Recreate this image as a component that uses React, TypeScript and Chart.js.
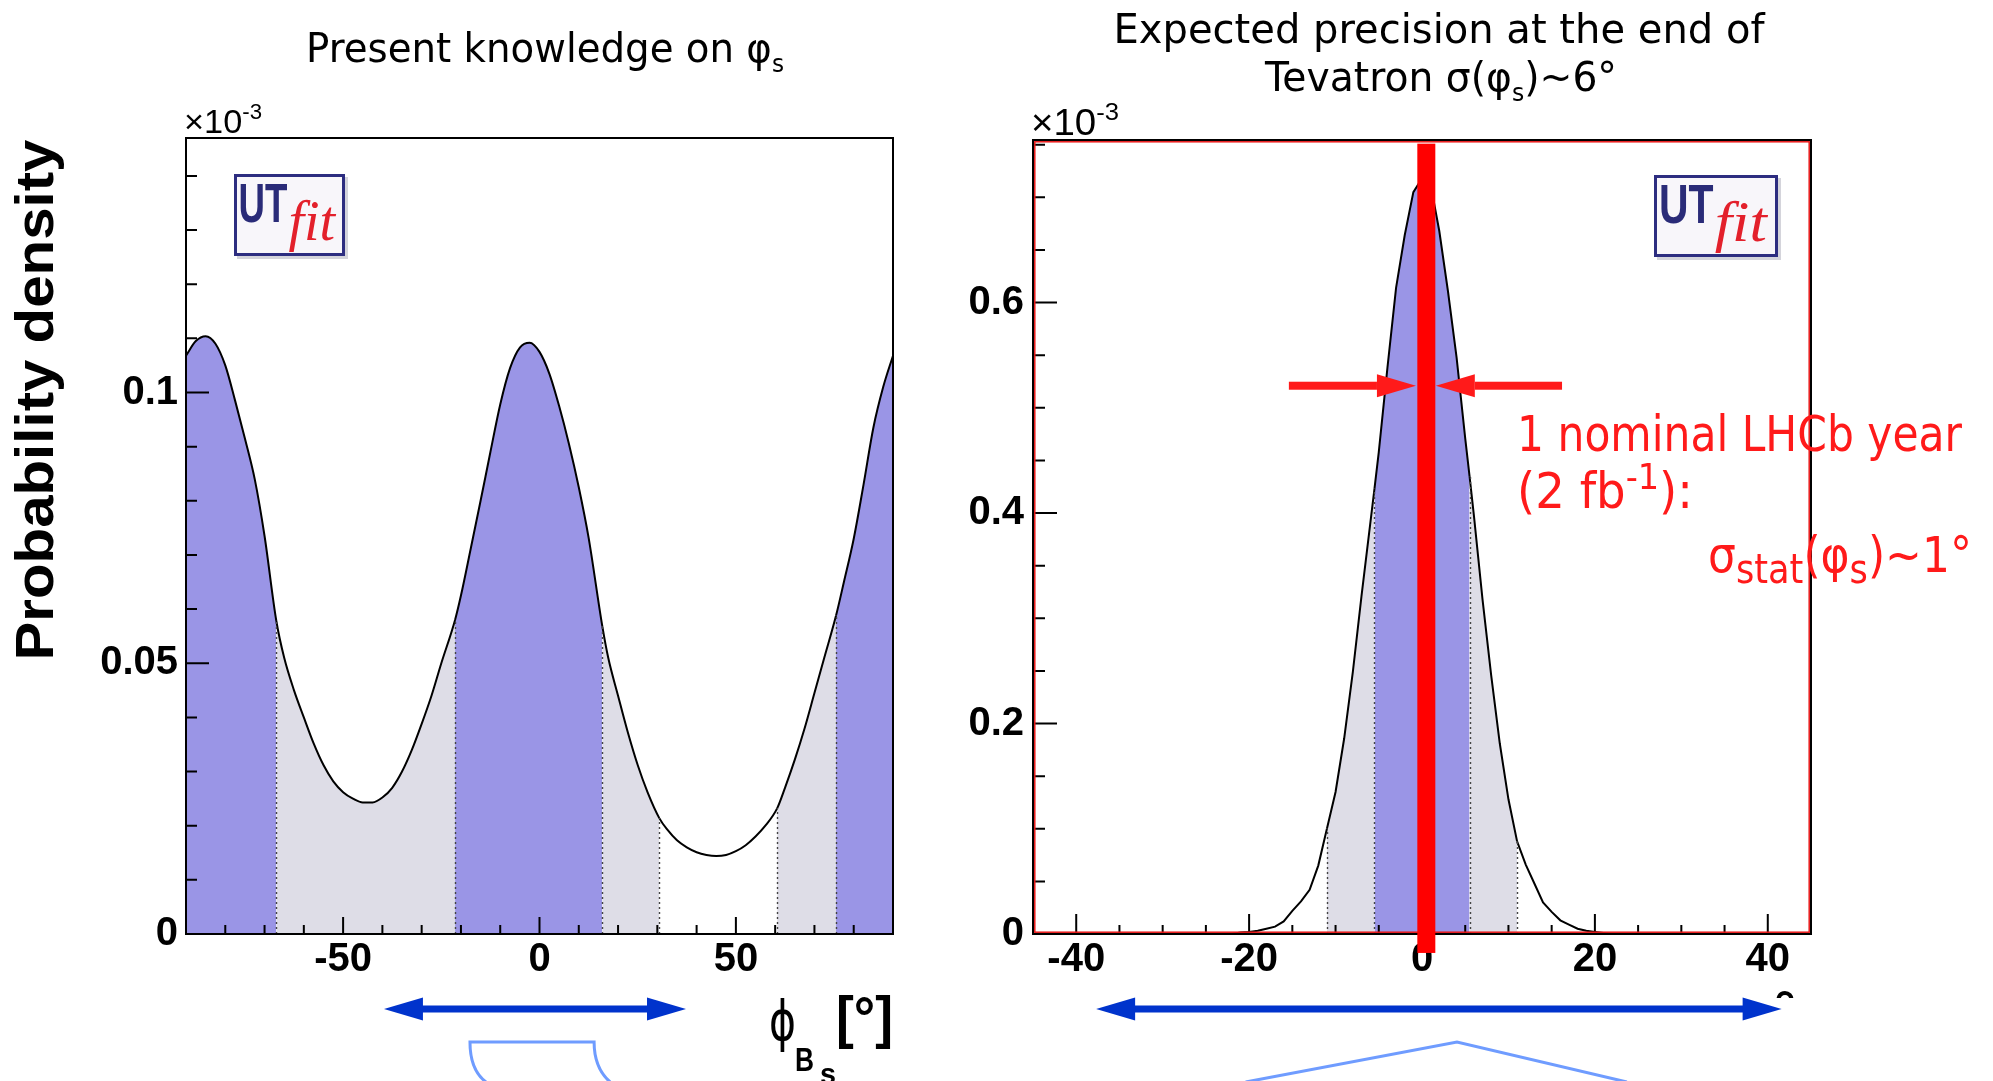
import { useEffect, useRef } from 'react';
import { Chart, registerables } from 'chart.js';

Chart.register(...registerables);

// ---- Present knowledge: posterior density of phi_s [deg] (x 1e-3) ----
const PHI_NOW = [-90, -87.5, -85, -82.5, -80, -77.5, -75, -72.5, -70, -67, -65, -62.5, -60, -57.5, -55, -52.5, -50, -47.5, -45, -42.5, -40, -37.5, -35, -32.5, -30, -27.5, -25, -21.5, -20, -17.5, -15, -12.5, -10, -7.5, -5, -2.5, 0, 2.5, 5, 7.5, 10, 12.5, 16, 17.5, 20, 22.5, 25, 27.5, 30.5, 32.5, 35, 37.5, 40, 42.5, 45, 47.5, 50, 52.5, 55, 57.5, 60.5, 62.5, 65, 67.5, 70, 72.5, 75.5, 77.5, 80, 82.5, 85, 87.5, 90];
const PDF_NOW = [0.1068, 0.1095, 0.1104, 0.109, 0.105, 0.0985, 0.0915, 0.084, 0.0735, 0.0578, 0.051, 0.045, 0.04, 0.0352, 0.0312, 0.0282, 0.0262, 0.025, 0.0243, 0.0243, 0.0252, 0.027, 0.03, 0.034, 0.0388, 0.044, 0.05, 0.058, 0.0625, 0.0712, 0.08, 0.089, 0.0978, 0.1045, 0.1083, 0.1092, 0.1075, 0.1035, 0.0975, 0.0905, 0.0825, 0.0732, 0.0568, 0.051, 0.044, 0.0372, 0.0312, 0.0262, 0.0214, 0.0193, 0.0173, 0.016, 0.0151, 0.0146, 0.0144, 0.0146, 0.0153, 0.0164, 0.018, 0.02, 0.0232, 0.027, 0.0322, 0.038, 0.0445, 0.051, 0.0588, 0.065, 0.073, 0.083, 0.0935, 0.101, 0.1068];
const NOW_68 = [[-90, -67], [-21.5, 16], [75.5, 90]];
const NOW_95 = [[-67, -21.5], [16, 30.5], [60.5, 75.5]];
const NOW_X_TICKS = [-50, 0, 50];
const NOW_X_LABELS = ['-50', '0', '50'];
const NOW_Y_TICKS = [0, 0.05, 0.1];
const NOW_Y_LABELS = ['0', '0.05', '0.1'];

// ---- Expected at the end of Tevatron: density of phi_s [deg] (x 1e-3) ----
const PHI_TEV = [-45, -22, -21, -20, -19, -18, -17, -16, -15, -14, -13, -12, -11, -10, -9, -8, -7, -6, -5.5, -5, -4, -3, -2, -1, 0, 1, 2, 3, 4, 5, 5.5, 6, 7, 8, 9, 10, 11, 12, 13, 14, 15, 16, 17, 18, 19, 20, 21, 22, 45];
const PDF_TEV = [0, 0, 0.0015, 0.002, 0.003, 0.005, 0.007, 0.012, 0.022, 0.031, 0.042, 0.065, 0.1, 0.135, 0.186, 0.249, 0.321, 0.389, 0.423, 0.458, 0.538, 0.614, 0.664, 0.705, 0.718, 0.712, 0.668, 0.611, 0.548, 0.471, 0.435, 0.398, 0.318, 0.246, 0.181, 0.128, 0.088, 0.066, 0.048, 0.03, 0.021, 0.013, 0.009, 0.005, 0.003, 0.002, 0.001, 0, 0];
const TEV_68 = [[-5.5, 5.5]];
const TEV_95 = [[-11, -5.5], [5.5, 11]];
const TEV_X_TICKS = [-40, -20, 0, 20, 40];
const TEV_X_LABELS = ['-40', '-20', '0', '20', '40'];
const TEV_Y_TICKS = [0, 0.2, 0.4, 0.6];
const TEV_Y_LABELS = ['0', '0.2', '0.4', '0.6'];

// LHCb one-year expectation overlay
const LHCB_CENTRAL = 0.5;
const LHCB_ARROW_LEVEL = 0.521;
const LHCB_ARROW_LEFT = [-15.4, -0.7];
const LHCB_ARROW_RIGHT = [16.2, 1.6];

const FONT_AXIS = '"Liberation Sans", Arial, Helvetica, sans-serif';
const FONT_HAND = '"DejaVu Sans", "Noto Sans", sans-serif';
const DARK = '#9a95e6';
const LIGHT = '#dedde7';
const RED = '#ff1a1a';
const BLUE = '#0033cc';
const PALE_BLUE = '#6f9cff';

type Run = { text: string; size: number; dy?: number; weight?: string; style?: string; family?: string };

function drawRuns(
  ctx: CanvasRenderingContext2D,
  runs: Run[],
  x: number,
  y: number,
  align: 'left' | 'center' | 'right',
  family: string,
  color: string,
  fitWidth?: number,
) {
  ctx.save();
  const fontOf = (r: Run) => `${r.style ?? 'normal'} ${r.weight ?? 'normal'} ${r.size}px ${r.family ?? family}`;
  let total = 0;
  const widths = runs.map((r) => {
    ctx.font = fontOf(r);
    const w = ctx.measureText(r.text).width;
    total += w;
    return w;
  });
  const sx = fitWidth ? fitWidth / total : 1;
  const drawn = total * sx;
  const x0 = align === 'left' ? x : align === 'right' ? x - drawn : x - drawn / 2;
  ctx.translate(x0, y);
  ctx.scale(sx, 1);
  ctx.fillStyle = color;
  ctx.textAlign = 'left';
  ctx.textBaseline = 'alphabetic';
  let cx = 0;
  runs.forEach((r, i) => {
    ctx.font = fontOf(r);
    ctx.fillText(r.text, cx, r.dy ?? 0);
    cx += widths[i];
  });
  ctx.restore();
}

function inBands(x: number, bands: number[][]) {
  return bands.some(([a, b]) => x >= a && x <= b);
}

function bandFill(dark: number[][], light: number[][]) {
  return (ctx: any) => {
    const m = (ctx.p0.parsed.x + ctx.p1.parsed.x) / 2;
    if (inBands(m, dark)) return DARK;
    if (inBands(m, light)) return LIGHT;
    return 'rgba(255,255,255,0)';
  };
}

function bandEdges(bands: number[][], min: number, max: number) {
  const out: number[] = [];
  bands.flat().forEach((e) => {
    if (e > min && e < max && !out.includes(e)) out.push(e);
  });
  return out;
}

function drawBandEdges(chart: any, xs: number[], ys: number[], edges: number[]) {
  const { ctx } = chart;
  const sx = chart.scales.x;
  const sy = chart.scales.y;
  ctx.save();
  ctx.strokeStyle = '#444';
  ctx.lineWidth = 1.4;
  ctx.setLineDash([2, 3]);
  edges.forEach((e) => {
    const i = xs.indexOf(e);
    if (i < 0) return;
    const px = Math.round(sx.getPixelForValue(e)) + 0.5;
    ctx.beginPath();
    ctx.moveTo(px, sy.getPixelForValue(0));
    ctx.lineTo(px, sy.getPixelForValue(ys[i]));
    ctx.stroke();
  });
  ctx.restore();
}

type TickSpec = { xStep: number; yStep: number; xMajor: number[]; yMajor: number[]; xLen: number[]; yLen: number[]; redInset?: boolean };

function drawFrameTicks(chart: any, t: TickSpec) {
  const { ctx, chartArea: ca } = chart;
  const sx = chart.scales.x;
  const sy = chart.scales.y;
  const isMajor = (list: number[], v: number) => list.some((m) => Math.abs(m - v) < 1e-6);
  ctx.save();
  ctx.strokeStyle = '#000';
  ctx.lineWidth = 2;
  ctx.beginPath();
  for (let k = Math.ceil(sx.min / t.xStep - 1e-9); k * t.xStep <= sx.max + 1e-9; k++) {
    const v = k * t.xStep;
    if (v <= sx.min + 1e-9 || v >= sx.max - 1e-9) continue;
    const px = sx.getPixelForValue(v);
    ctx.moveTo(px, ca.bottom);
    ctx.lineTo(px, ca.bottom - (isMajor(t.xMajor, v) ? t.xLen[0] : t.xLen[1]));
  }
  for (let k = Math.ceil(sy.min / t.yStep - 1e-9); k * t.yStep <= sy.max + 1e-9; k++) {
    const v = k * t.yStep;
    if (v <= sy.min + 1e-9 || v >= sy.max - 1e-9) continue;
    const py = sy.getPixelForValue(v);
    ctx.moveTo(ca.left, py);
    ctx.lineTo(ca.left + (isMajor(t.yMajor, v) ? t.yLen[0] : t.yLen[1]), py);
  }
  ctx.stroke();
  ctx.strokeRect(ca.left, ca.top, ca.right - ca.left, ca.bottom - ca.top);
  if (t.redInset) {
    ctx.strokeStyle = '#e81818';
    ctx.lineWidth = 1.5;
    ctx.strokeRect(ca.left + 1.8, ca.top + 1.8, ca.right - ca.left - 3.6, ca.bottom - ca.top - 3.6);
  }
  ctx.restore();
}

function drawLogo(ctx: CanvasRenderingContext2D, x: number, y: number, w: number, h: number) {
  ctx.save();
  ctx.fillStyle = 'rgba(60,60,90,0.22)';
  ctx.fillRect(x + 3, y + 3, w, h);
  ctx.fillStyle = '#f8f6fa';
  ctx.fillRect(x, y, w, h);
  ctx.strokeStyle = '#2d2d80';
  ctx.lineWidth = 3;
  ctx.strokeRect(x + 1.5, y + 1.5, w - 3, h - 3);
  drawRuns(ctx, [{ text: 'UT', size: 56, weight: 'bold' }], x + w * 0.04, y + h * 0.585, 'left', FONT_AXIS, '#2a2b78', w * 0.44);
  drawRuns(ctx, [{ text: 'fit', size: 58, style: 'italic' }], x + w * 0.49, y + h * 0.8, 'left', '"Liberation Serif", "DejaVu Serif", serif', '#e3202b', w * 0.42);
  ctx.restore();
}

function arrowHead(ctx: CanvasRenderingContext2D, tip: number, y: number, dir: number, len: number, half: number) {
  ctx.beginPath();
  ctx.moveTo(tip, y);
  ctx.lineTo(tip - dir * len, y - half);
  ctx.lineTo(tip - dir * len, y + half);
  ctx.closePath();
  ctx.fill();
}

// single-headed horizontal arrow: tail -> tip
function arrow(ctx: CanvasRenderingContext2D, tail: number, tip: number, y: number, color: string, thick: number, len: number, half: number) {
  const dir = Math.sign(tip - tail);
  ctx.save();
  ctx.fillStyle = color;
  const a = Math.min(tail, tip - dir * len);
  const b = Math.max(tail, tip - dir * len);
  ctx.fillRect(a, y - thick / 2, b - a, thick);
  arrowHead(ctx, tip, y, dir, len, half);
  ctx.restore();
}

function doubleArrow(ctx: CanvasRenderingContext2D, left: number, right: number, y: number, color: string, thick: number, len: number, half: number) {
  ctx.save();
  ctx.fillStyle = color;
  ctx.fillRect(left + len - 1, y - thick / 2, right - left - 2 * len + 2, thick);
  arrowHead(ctx, left, y, -1, len, half);
  arrowHead(ctx, right, y, 1, len, half);
  ctx.restore();
}

const TICK_FONT = { family: FONT_AXIS, size: 40, weight: 'bold' as const };

function axisX(min: number, max: number, ticks: number[], labels: string[], height: number) {
  return {
    type: 'linear' as const,
    min,
    max,
    grid: { display: false, drawTicks: false },
    border: { display: false },
    ticks: {
      autoSkip: false,
      maxRotation: 0,
      padding: 2,
      color: '#000',
      font: TICK_FONT,
      callback: (_v: any, i: number) => labels[i] ?? '',
    },
    afterBuildTicks: (axis: any) => {
      axis.ticks = ticks.map((value) => ({ value }));
    },
    afterFit: (axis: any) => {
      axis.height = height;
    },
  };
}

function axisY(min: number, max: number, ticks: number[], labels: string[], width: number, pad: number) {
  return {
    type: 'linear' as const,
    min,
    max,
    grid: { display: false, drawTicks: false },
    border: { display: false },
    ticks: {
      autoSkip: false,
      padding: pad,
      color: '#000',
      font: TICK_FONT,
      callback: (_v: any, i: number) => labels[i] ?? '',
    },
    afterBuildTicks: (axis: any) => {
      axis.ticks = ticks.map((value) => ({ value }));
    },
    afterFit: (axis: any) => {
      axis.width = width;
    },
  };
}

const nowDecor = {
  id: 'nowDecor',
  afterDatasetsDraw(chart: any) {
    drawBandEdges(chart, PHI_NOW, PDF_NOW, bandEdges([...NOW_68, ...NOW_95], -90, 90));
  },
  afterDraw(chart: any) {
    const { ctx, chartArea: ca } = chart;
    const sx = chart.scales.x;
    drawFrameTicks(chart, { xStep: 10, yStep: 0.01, xMajor: NOW_X_TICKS, yMajor: NOW_Y_TICKS, xLen: [17, 9], yLen: [23, 11] });
    drawLogo(ctx, ca.left + 48, ca.top + 36, 111, 82);

    drawRuns(ctx, [{ text: 'Present knowledge on φ', size: 40 }, { text: 's', size: 24, dy: 10 }], ca.left + 359, 62, 'center', FONT_HAND, '#000', 478);
    drawRuns(ctx, [{ text: '×10', size: 34 }, { text: '-3', size: 22, dy: -14 }], ca.left - 2, ca.top - 5, 'left', FONT_AXIS, '#000', 78);

    ctx.save();
    ctx.translate(ca.left - 133, ca.top + 262);
    ctx.rotate(-Math.PI / 2);
    drawRuns(ctx, [{ text: 'Probability density', size: 54, weight: 'bold' }], 0, 0, 'center', FONT_AXIS, '#000', 521);
    ctx.restore();

    // axis title: phi_{B_s} [deg]
    drawRuns(ctx, [{ text: 'ϕ', size: 56 }], ca.right - 124, ca.bottom + 106, 'left', '"DejaVu Sans", sans-serif', '#000', 27);
    drawRuns(ctx, [{ text: 'B', size: 34, weight: 'bold' }], ca.right - 98, ca.bottom + 137, 'left', FONT_AXIS, '#000', 19);
    drawRuns(ctx, [{ text: 's', size: 30, weight: 'bold' }], ca.right - 73, ca.bottom + 150, 'left', FONT_AXIS, '#000', 16);
    drawRuns(ctx, [{ text: '[°]', size: 58, weight: 'bold' }], ca.right - 57, ca.bottom + 103, 'left', FONT_AXIS, '#000', 57);

    const yArrow = ca.bottom + 75;
    doubleArrow(ctx, sx.getPixelForValue(-39.6), sx.getPixelForValue(37.3), yArrow, BLUE, 7, 39, 11.5);

    const bl = sx.getPixelForValue(-17.7);
    const br = sx.getPixelForValue(13.9);
    const yb = ca.bottom + 108;
    ctx.save();
    ctx.strokeStyle = PALE_BLUE;
    ctx.lineWidth = 3;
    ctx.beginPath();
    ctx.moveTo(bl + 16, yb + 40);
    ctx.quadraticCurveTo(bl, yb + 28, bl, yb);
    ctx.lineTo(br, yb);
    ctx.quadraticCurveTo(br, yb + 26, br + 16, yb + 40);
    ctx.stroke();
    ctx.restore();
  },
};

const tevDecor = {
  id: 'tevDecor',
  afterDatasetsDraw(chart: any) {
    drawBandEdges(chart, PHI_TEV, PDF_TEV, bandEdges([...TEV_68, ...TEV_95], -45, 45));
  },
  afterDraw(chart: any) {
    const { ctx, chartArea: ca } = chart;
    const sx = chart.scales.x;
    const sy = chart.scales.y;
    drawFrameTicks(chart, { xStep: 5, yStep: 0.05, xMajor: TEV_X_TICKS, yMajor: TEV_Y_TICKS, xLen: [20, 9], yLen: [24, 12], redInset: true });
    drawLogo(ctx, ca.right - 157, ca.top + 35, 124, 82);

    drawRuns(ctx, [{ text: 'Expected precision at the end of', size: 40 }], ca.left + 406, 43, 'center', FONT_HAND, '#000', 651);
    drawRuns(
      ctx,
      [{ text: 'Tevatron σ(φ', size: 40 }, { text: 's', size: 24, dy: 10 }, { text: ')~6°', size: 40 }],
      ca.left + 408,
      91,
      'center',
      FONT_HAND,
      '#000',
      352,
    );
    drawRuns(ctx, [{ text: '×10', size: 36 }, { text: '-3', size: 24, dy: -15 }], ca.left - 2, ca.top - 5, 'left', FONT_AXIS, '#000', 88);

    // LHCb expected central value and resolution
    const px = sx.getPixelForValue(LHCB_CENTRAL);
    const top = sy.getPixelForValue(0.751);
    const bottom = sy.getPixelForValue(-0.018);
    ctx.save();
    ctx.fillStyle = '#ff0000';
    ctx.fillRect(px - 9, top, 18, bottom - top);
    ctx.restore();
    const ay = sy.getPixelForValue(LHCB_ARROW_LEVEL);
    arrow(ctx, sx.getPixelForValue(LHCB_ARROW_LEFT[0]), sx.getPixelForValue(LHCB_ARROW_LEFT[1]), ay, RED, 8, 39, 11.5);
    arrow(ctx, sx.getPixelForValue(LHCB_ARROW_RIGHT[0]), sx.getPixelForValue(LHCB_ARROW_RIGHT[1]), ay, RED, 8, 39, 11.5);

    drawRuns(ctx, [{ text: '1 nominal LHCb year', size: 50 }], ca.right - 294, 451, 'left', FONT_HAND, RED, 445);
    drawRuns(ctx, [{ text: '(2 fb', size: 50 }, { text: '-1', size: 36, dy: -19 }, { text: '):', size: 50 }], ca.right - 294, 508, 'left', FONT_HAND, RED, 176);
    drawRuns(
      ctx,
      [
        { text: 'σ', size: 50 },
        { text: 'stat', size: 40, dy: 11 },
        { text: '(φ', size: 50 },
        { text: 's', size: 40, dy: 11 },
        { text: ')~1°', size: 50 },
      ],
      ca.right + 161,
      572,
      'right',
      FONT_HAND,
      RED,
      264,
    );

    // partly hidden unit label under the axis
    ctx.save();
    ctx.beginPath();
    ctx.rect(ca.right - 45, ca.bottom + 50, 40, 14);
    ctx.clip();
    drawRuns(ctx, [{ text: '°', size: 56, weight: 'bold' }], ca.right - 37, ca.bottom + 96, 'left', FONT_AXIS, '#000', 22);
    ctx.restore();

    const yArrow = ca.bottom + 75;
    doubleArrow(ctx, sx.getPixelForValue(-37.7), sx.getPixelForValue(41.6), yArrow, BLUE, 7, 39, 11.5);

    ctx.save();
    ctx.strokeStyle = PALE_BLUE;
    ctx.lineWidth = 3;
    ctx.beginPath();
    ctx.moveTo(sx.getPixelForValue(-20.4), ca.bottom + 148);
    ctx.lineTo(sx.getPixelForValue(4.05), ca.bottom + 108);
    ctx.lineTo(sx.getPixelForValue(23.7), ca.bottom + 148);
    ctx.stroke();
    ctx.restore();
  },
};

function nowConfig(): any {
  return {
    type: 'line',
    data: {
      datasets: [
        {
          data: PHI_NOW.map((x, i) => ({ x, y: PDF_NOW[i] })),
          borderColor: '#000',
          borderWidth: 2,
          pointRadius: 0,
          fill: 'origin',
          backgroundColor: DARK,
          cubicInterpolationMode: 'monotone',
          segment: { backgroundColor: bandFill(NOW_68, NOW_95) },
        },
      ],
    },
    options: {
      responsive: false,
      animation: false,
      events: [],
      layout: { padding: { left: 86, top: 138, right: 47, bottom: 87 } },
      plugins: { legend: { display: false }, tooltip: { enabled: false } },
      scales: {
        x: axisX(-90, 90, NOW_X_TICKS, NOW_X_LABELS, 60),
        y: axisY(0, 0.147, NOW_Y_TICKS, NOW_Y_LABELS, 100, 8),
      },
    },
    plugins: [nowDecor],
  };
}

function tevConfig(): any {
  return {
    type: 'line',
    data: {
      datasets: [
        {
          data: PHI_TEV.map((x, i) => ({ x, y: PDF_TEV[i] })),
          borderColor: '#000',
          borderWidth: 2,
          pointRadius: 0,
          fill: 'origin',
          backgroundColor: DARK,
          tension: 0,
          segment: { backgroundColor: bandFill(TEV_68, TEV_95) },
        },
      ],
    },
    options: {
      responsive: false,
      animation: false,
      events: [],
      layout: { padding: { left: 13, top: 140, right: 182, bottom: 87 } },
      plugins: { legend: { display: false }, tooltip: { enabled: false } },
      scales: {
        x: axisX(-45, 45, TEV_X_TICKS, TEV_X_LABELS, 60),
        y: axisY(0, 0.7545, TEV_Y_TICKS, TEV_Y_LABELS, 80, 9),
      },
    },
    plugins: [tevDecor],
  };
}

export default function App() {
  const leftRef = useRef<HTMLCanvasElement>(null);
  const rightRef = useRef<HTMLCanvasElement>(null);

  useEffect(() => {
    const a = new Chart(leftRef.current as HTMLCanvasElement, nowConfig());
    const b = new Chart(rightRef.current as HTMLCanvasElement, tevConfig());
    return () => {
      a.destroy();
      b.destroy();
    };
  }, []);

  return (
    <div style={{ position: 'absolute', left: 0, top: 0, width: 1993, height: 1081, background: '#fff', overflow: 'hidden' }}>
      <canvas ref={leftRef} width={940} height={1081} style={{ position: 'absolute', left: 0, top: 0, width: 940, height: 1081 }} />
      <canvas ref={rightRef} width={1053} height={1081} style={{ position: 'absolute', left: 940, top: 0, width: 1053, height: 1081 }} />
    </div>
  );
}
